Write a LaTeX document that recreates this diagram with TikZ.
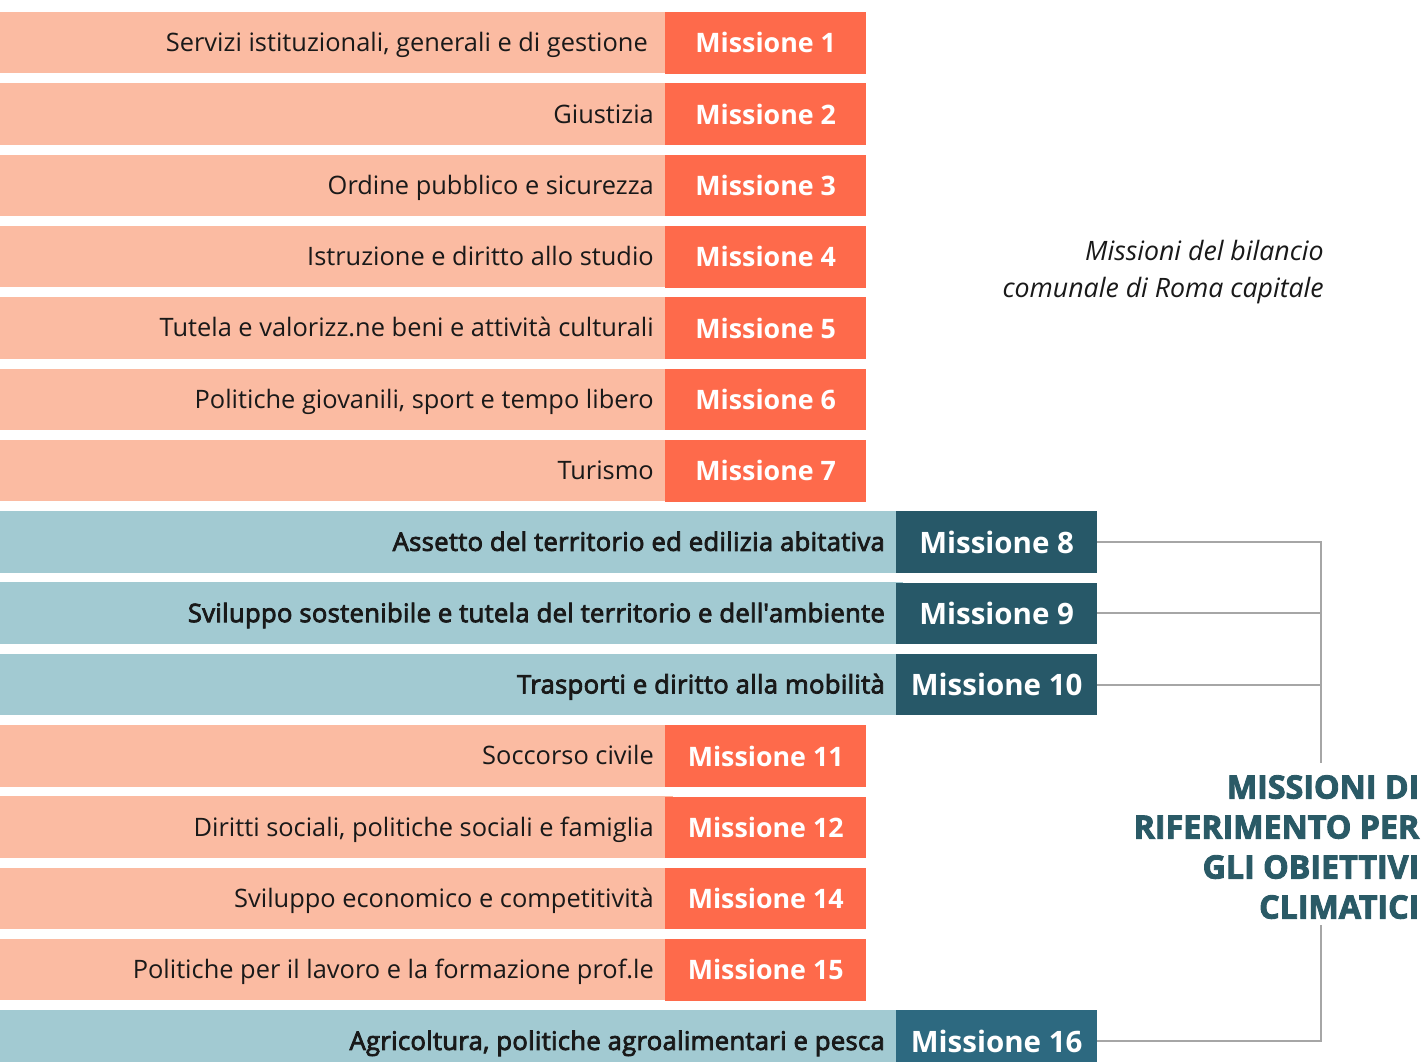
\documentclass[tikz,border=0pt]{standalone}
\usepackage{fontspec}
\setmainfont{Open Sans}
\definecolor{salmon}{HTML}{FBBBA2}
\definecolor{coral}{HTML}{FE6A4B}
\definecolor{lblue}{HTML}{A2CAD2}
\definecolor{dteal}{HTML}{275868}
\definecolor{dteal2}{HTML}{2D6980}
\definecolor{linegray}{HTML}{A6A6A6}
\definecolor{titlecol}{HTML}{2A5A66}
\newcommand{\heavytext}[1]{\special{pdf:literal 2 Tr 0.9 w}#1\special{pdf:literal 0 Tr}}
\newcommand{\semitext}[1]{\special{pdf:literal 2 Tr 0.8 w}#1\special{pdf:literal 0 Tr}}
\begin{document}
\begin{tikzpicture}[x=1pt,y=-1pt,
  desc/.style={anchor=base east,inner sep=0pt,font=\fontsize{25.4}{30}\selectfont,text=black!90},
  descb/.style={anchor=base east,inner sep=0pt,font=\fontsize{25.6}{30}\selectfont\addfontfeature{LetterSpace=1.2},text=black!90},
  mbox/.style={fill=coral,draw=none,minimum width=201pt,minimum height=61.5pt,inner sep=0pt,text=white,font=\fontsize{26.8}{30}\selectfont\bfseries,anchor=north west},
  dbox/.style={fill=dteal,draw=none,minimum width=201pt,minimum height=61.5pt,inner sep=0pt,text=white,font=\fontsize{29.5}{36}\selectfont\bfseries,anchor=north west},
  conn/.style={draw=linegray,line width=1.8pt}
]
\useasboundingbox (0,0) rectangle (1427,1062);
\fill[white] (0,0) rectangle (1427,1062);
\def\rh{61.5}
% orange rows
\foreach \k/\txt/\lab/\tx in {
  1/{Servizi istituzionali, generali e di gestione}/{Missione 1}/648,
  2/{Giustizia}/{Missione 2}/654,
  3/{Ordine pubblico e sicurezza}/{Missione 3}/654,
  4/{Istruzione e diritto allo studio}/{Missione 4}/654,
  5/{Tutela e valorizz.ne beni e attività culturali}/{Missione 5}/654,
  6/{Politiche giovanili, sport e tempo libero}/{Missione 6}/654,
  7/{Turismo}/{Missione 7}/654,
  11/{Soccorso civile}/{Missione 11}/654,
  12/{Diritti sociali, politiche sociali e famiglia}/{Missione 12}/654,
  13/{Sviluppo economico e competitività}/{Missione 14}/654,
  14/{Politiche per il lavoro e la formazione prof.le}/{Missione 15}/654}{
  \pgfmathsetmacro{\top}{12+71.3*(\k-1)}
  \fill[salmon] (0,\top) rectangle (673,\top+\rh);
  \node[mbox] (m\k) at (665,\top) {\lab};
  \node[desc] (d\k) at (\tx,\top+\rh/2+9) {\txt};
}
% blue rows
\foreach \k/\txt/\lab/\col in {
  8/{Assetto del territorio ed edilizia abitativa}/{Missione 8}/dteal,
  9/{Sviluppo sostenibile e tutela del territorio e dell\textquotesingle ambiente}/{Missione 9}/dteal,
  10/{Trasporti e diritto alla mobilità}/{Missione 10}/dteal,
  15/{Agricoltura, politiche agroalimentari e pesca}/{Missione 16}/dteal2}{
  \pgfmathsetmacro{\top}{12+71.3*(\k-1)}
  \fill[lblue] (0,\top) rectangle (903,\top+\rh);
  \node[dbox,fill=\col] (m\k) at (896,\top) {\lab};
  \node[descb] (d\k) at (885,\top+\rh/2+9) {\semitext{\txt}};
}
% italic caption
\node[anchor=north east,inner sep=0pt,align=right,font=\fontsize{26.7}{37}\selectfont\itshape,text=black!90] (cap) at (1324,240) {Missioni del bilancio\\comunale di Roma capitale};
% title
\node[anchor=north east,inner sep=0pt,align=right,font=\fontsize{32.2}{40}\selectfont\bfseries,text=titlecol] (ttl) at (1419.5,775) {\heavytext{MISSIONI DI}\\\heavytext{RIFERIMENTO PER}\\\heavytext{GLI OBIETTIVI}\\\heavytext{CLIMATICI}};
% connectors
\coordinate (vt) at (1321,763);
\coordinate (vb) at (1321,925);
\draw[conn] (m8.east) -- (m8.east -| vt) -- (vt);
\draw[conn] (m9.east) -- (m9.east -| vt);
\draw[conn] (m10.east) -- (m10.east -| vt);
\draw[conn] (vb) -- (vb |- m15.east) -- (m15.east);
\end{tikzpicture}
\end{document}
